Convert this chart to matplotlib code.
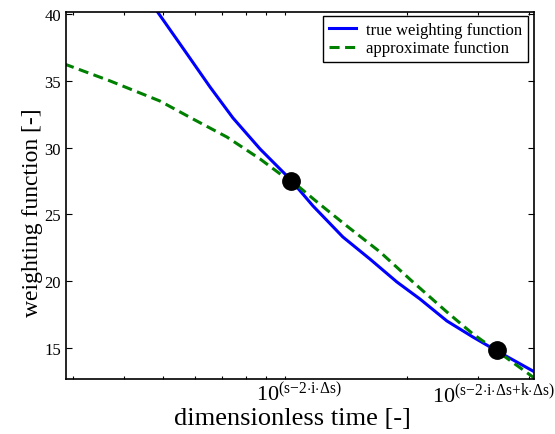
import matplotlib
matplotlib.use("Agg")
import matplotlib.pyplot as plt
from matplotlib.ticker import FixedLocator, FixedFormatter, NullFormatter

plt.rcParams['font.family'] = ['Liberation Serif', 'DejaVu Serif']
plt.rcParams['mathtext.fontset'] = 'custom'
plt.rcParams['mathtext.rm'] = 'Liberation Serif'
plt.rcParams['mathtext.it'] = 'Liberation Serif'
plt.rcParams['mathtext.bf'] = 'Liberation Serif:bold'

# data
true_x = [0.483, 0.573, 0.653, 0.744, 0.868, 1.029, 1.173, 1.390, 1.621, 1.890,
          2.154, 2.512, 2.912, 3.337, 4.094, 4.2]
true_y = [40.22, 37.01, 34.54, 32.22, 29.90, 27.65, 25.63, 23.31, 21.66, 19.94,
          18.67, 17.02, 15.82, 14.78, 13.28, 13.1]
approx_x = [0.285, 0.290, 0.370, 0.491, 0.593, 0.719, 0.868, 0.989, 1.047, 1.200,
            1.422, 1.717, 2.070, 2.512, 2.912, 3.337, 4.094, 4.2]
approx_y = [36.25, 36.18, 34.99, 33.49, 32.14, 30.79, 29.15, 27.87, 27.43, 25.93,
            24.13, 22.19, 19.94, 17.69, 16.05, 14.78, 12.83, 12.55]
dot_x = [1.035, 3.337]
dot_y = [27.5, 14.85]
xtick_pos = [1.083, 3.263]
xtick_labels = [r'$10^{(s{-}2{\cdot}i{\cdot}\Delta s)}$',
                r'$10^{(s{-}2{\cdot}i{\cdot}\Delta s{+}k{\cdot}\Delta s)}$']
minor_ticks = [0.3, 0.4, 0.5, 0.6, 0.7, 0.8, 0.9, 1.0, 2.0, 3.0, 4.0]
yticks = [15, 20, 25, 30, 35, 40]

fig = plt.figure(figsize=(5.55, 4.35), dpi=100)
ax = fig.add_axes([66/555, 1-380/435, (534-66)/555, (380-13)/435])

ax.plot(true_x, true_y, color='#0000ff', lw=2.2, label='true weighting function')
ax.plot(approx_x, approx_y, color='#008000', lw=2.2, ls=(0, (3.3, 1.8)),
        label='approximate function')
ax.plot(dot_x, dot_y, 'o', color='black', ms=12.5, zorder=5)

ax.set_xscale('log')
ax.set_xlim(0.288, 4.12)
ax.set_ylim(12.68, 40.15)

ax.xaxis.set_major_locator(FixedLocator(xtick_pos))
ax.xaxis.set_major_formatter(FixedFormatter(xtick_labels))
ax.xaxis.set_minor_locator(FixedLocator(minor_ticks))
ax.xaxis.set_minor_formatter(NullFormatter())
ax.tick_params(axis='x', which='major', length=0, labelsize=16, pad=2)
ax.tick_params(axis='x', which='minor', length=2.5, width=0.8, direction='in',
               top=True, bottom=True)
ax.set_yticks(yticks)
ax.tick_params(axis='y', which='major', length=4, width=0.8, direction='in',
               left=True, right=True, labelsize=12)
ax.tick_params(axis='y', which='minor', left=False, right=False)

for sp in ax.spines.values():
    sp.set_linewidth(1.2)

ax.set_ylabel('weighting function [-]', fontsize=17)
ax.set_xlabel('dimensionless time [-]', fontsize=19)
ax.xaxis.set_label_coords(0.483, -0.076)
ax.yaxis.set_label_coords(-0.049, 0.455)

leg = ax.legend(loc='upper right', bbox_to_anchor=(0.987, 0.989), borderaxespad=0,
                fontsize=12, fancybox=False, framealpha=1, handlelength=1.6,
                borderpad=0.35, labelspacing=0.15, handletextpad=0.6)
leg.get_frame().set_edgecolor('black')
leg.get_frame().set_linewidth(1.0)

fig.savefig('out.png', dpi=100)
